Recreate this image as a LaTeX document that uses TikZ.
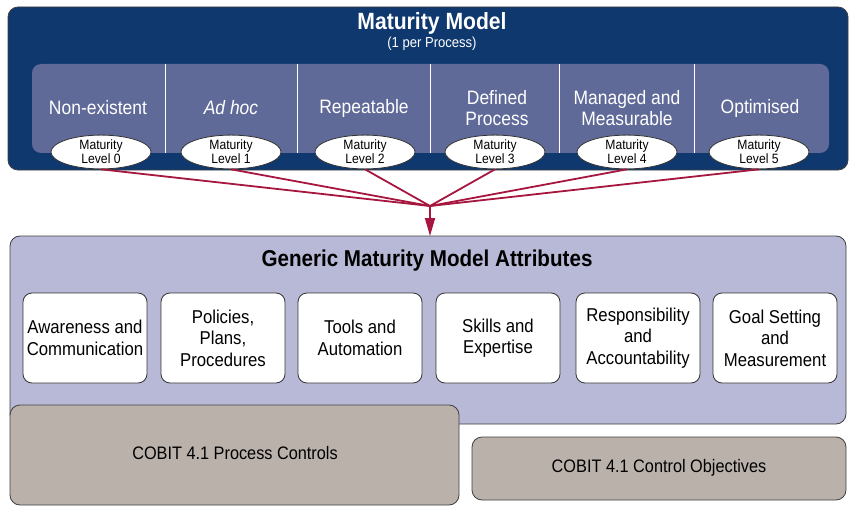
\documentclass[tikz,border=0pt]{standalone}
\usepackage{fontspec}
\setmainfont{Liberation Sans}[FakeStretch=0.9]
\usetikzlibrary{arrows.meta,shapes.geometric}
\definecolor{navy}{RGB}{14,56,110}
\definecolor{slate}{RGB}{96,106,152}
\definecolor{lav}{RGB}{184,185,214}
\definecolor{taupe}{RGB}{186,177,171}
\definecolor{crim}{RGB}{166,22,62}
\tikzset{
  colhead/.style={text=white, font=\fontsize{19.4}{21}\selectfont, align=center},
  lvl/.style={ellipse, draw=black!80, line width=0.8pt, fill=white, minimum width=100pt, minimum height=32pt, inner sep=0pt, font=\fontsize{13.5}{14}\selectfont, align=center},
  attr/.style={draw=black!80, line width=0.8pt, fill=white, rounded corners=9pt, minimum width=124pt, minimum height=90pt, inner sep=2pt, font=\fontsize{18.6}{21.5}\selectfont, align=center},
  conn/.style={draw=crim, line width=1.8pt},
  base/.style={draw=black!75, line width=0.8pt, rounded corners=10pt}
}
\begin{document}
\begin{tikzpicture}[x=1pt,y=-1pt]
\useasboundingbox (0,0) rectangle (854,508);
% Maturity model frame
\filldraw[base, fill=navy] (8,7) rectangle (848,170);
\node[text=white, font=\bfseries\fontsize{23.5}{25}\selectfont] (mmtitle) at (432,23) {Maturity Model};
\node[text=white, font=\fontsize{14.5}{16}\selectfont] (mmsub) at (432,44) {(1 per Process)};
\fill[slate, rounded corners=9pt] (32,64) rectangle (829,153);
\foreach \x in {165,297,430,559,694} \draw[white, line width=0.8pt] (\x,64) -- (\x,153);
\node[colhead] (c0) at (98,108) {Non-existent};
\node[colhead, font=\itshape\fontsize{19.4}{21}\selectfont] (c1) at (231,108) {Ad hoc};
\node[colhead] (c2) at (364,108) {Repeatable};
\node[colhead] (c3) at (497,108) {Defined\\Process};
\node[colhead] (c4) at (627,108) {Managed and\\Measurable};
\node[colhead] (c5) at (760,108) {Optimised};
\node[lvl] (l0) at (101,152) {Maturity\\Level 0};
\node[lvl] (l1) at (231,152) {Maturity\\Level 1};
\node[lvl] (l2) at (365,152) {Maturity\\Level 2};
\node[lvl] (l3) at (495,152) {Maturity\\Level 3};
\node[lvl] (l4) at (627,152) {Maturity\\Level 4};
\node[lvl] (l5) at (759,152) {Maturity\\Level 5};
% Generic attributes
\filldraw[base, fill=lav] (10,236) rectangle (846,424);
\node[font=\bfseries\fontsize{22.9}{25}\selectfont] (gtitle) at (427,261) {Generic Maturity Model Attributes};
\node[attr] (a0) at (85,338) {Awareness and\\Communication};
\node[attr] (a1) at (223,338) {Policies,\\Plans,\\Procedures};
\node[attr] (a2) at (360,338) {Tools and\\Automation};
\node[attr] (a3) at (498,338) {Skills and\\Expertise};
\node[attr] (a4) at (638,338) {Responsibility\\and\\Accountability};
\node[attr] (a5) at (775,338) {Goal Setting\\and\\Measurement};
% connectors
\coordinate (hub) at (430,206);
\coordinate (tip) at (430,236);
\foreach \n in {l0,l1,l2,l3,l4,l5} \draw[conn] (\n.south) -- (hub);
\draw[conn, -{Triangle[length=18pt,width=10pt]}] (hub) -- (tip);
% bottom boxes
\filldraw[base, fill=taupe] (10,405) rectangle (459,505);
\node[font=\fontsize{18.1}{20}\selectfont] (pc) at (235,453) {COBIT 4.1 Process Controls};
\filldraw[base, fill=taupe] (472,437) rectangle (846,500);
\node[font=\fontsize{18.1}{20}\selectfont] (co) at (659,468) {COBIT 4.1 Control Objectives};
\end{tikzpicture}
\end{document}
